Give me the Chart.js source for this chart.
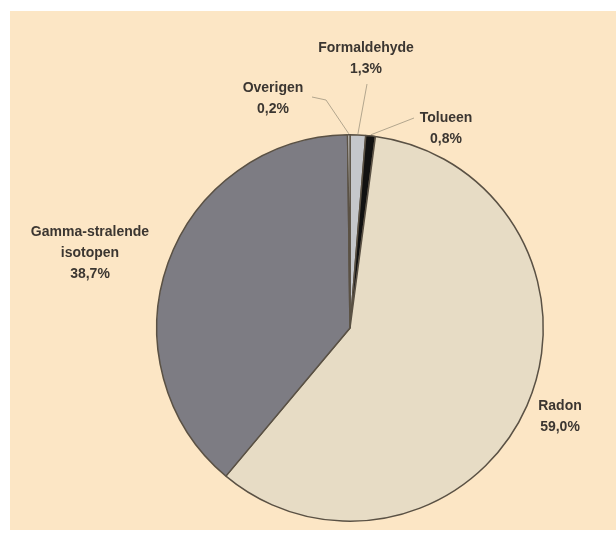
<!DOCTYPE html>
<html>
<head>
<meta charset="utf-8">
<script src="https://cdn.jsdelivr.net/npm/chart.js@4.4.1/dist/chart.umd.min.js"></script>
<style>
  html, body { margin: 0; padding: 0; background: #ffffff; }
  #wrap { width: 616px; height: 544px; position: relative; }
</style>
</head>
<body>
<div id="wrap"><canvas id="c" width="616" height="544"></canvas></div>
<script>
// Bronnen van stralingsbelasting binnenshuis (aandeel in %)
const categories = ['Formaldehyde', 'Tolueen', 'Radon', 'Gamma-stralende isotopen', 'Overigen'];
const labelLines = [['Formaldehyde'], ['Tolueen'], ['Radon'], ['Gamma-stralende', 'isotopen'], ['Overigen']];
const shares = [1.3, 0.8, 59.0, 38.7, 0.2];
const sliceColors = ['#c5c7cb', '#111111', '#e7dcc5', '#7d7c83', '#e2e2e0'];

// where each annotation sits, plus an optional elbow for its leader line
const labelLayout = [
  { x: 366, y: 48, elbow: null, lineEnd: { x: 367, y: 84 } },
  { x: 446, y: 118, elbow: null, lineEnd: { x: 414, y: 118 } },
  { x: 560, y: 406, elbow: null, lineEnd: null },
  { x: 90, y: 232, elbow: null, lineEnd: null },
  { x: 273, y: 88, elbow: { x: 326, y: 100 }, lineEnd: { x: 312, y: 97 } }
];

const fmt = v => v.toFixed(1).replace('.', ',') + '%';

const panelPlugin = {
  id: 'panel',
  beforeDraw(chart) {
    const ctx = chart.ctx;
    ctx.save();
    ctx.fillStyle = '#ffffff';
    ctx.fillRect(0, 0, chart.width, chart.height);
    ctx.fillStyle = '#fce6c5';
    ctx.fillRect(10, 11, chart.width - 10, 519);
    ctx.restore();
  }
};

const labelPlugin = {
  id: 'sliceLabels',
  afterDatasetsDraw(chart) {
    const ctx = chart.ctx;
    const meta = chart.getDatasetMeta(0);
    ctx.save();
    meta.data.forEach((arc, i) => {
      const lay = labelLayout[i];
      const mid = (arc.startAngle + arc.endAngle) / 2;
      const r = arc.outerRadius + 1;
      const sx = arc.x + Math.cos(mid) * r;
      const sy = arc.y + Math.sin(mid) * r;
      if (lay.lineEnd) {
        ctx.strokeStyle = '#b3a68e';
        ctx.lineWidth = 1;
        ctx.beginPath();
        ctx.moveTo(sx, sy);
        if (lay.elbow) ctx.lineTo(lay.elbow.x, lay.elbow.y);
        ctx.lineTo(lay.lineEnd.x, lay.lineEnd.y);
        ctx.stroke();
      }
      const lines = labelLines[i].concat([fmt(shares[i])]);
      ctx.fillStyle = '#3b3631';
      ctx.font = 'bold 14px "Liberation Sans", Arial, sans-serif';
      ctx.textAlign = 'center';
      ctx.textBaseline = 'middle';
      lines.forEach((t, k) => ctx.fillText(t, lay.x, lay.y + k * 21));
    });
    ctx.restore();
  }
};

new Chart(document.getElementById('c'), {
  type: 'pie',
  data: {
    labels: categories,
    datasets: [{
      data: shares,
      backgroundColor: sliceColors,
      borderColor: '#5a5144',
      borderWidth: 1.5
    }]
  },
  options: {
    responsive: false,
    animation: false,
    layout: { padding: { left: 156, right: 72, top: 134, bottom: 22 } },
    plugins: {
      legend: { display: false },
      tooltip: { enabled: false }
    }
  },
  plugins: [panelPlugin, labelPlugin]
});
</script>
</body>
</html>
